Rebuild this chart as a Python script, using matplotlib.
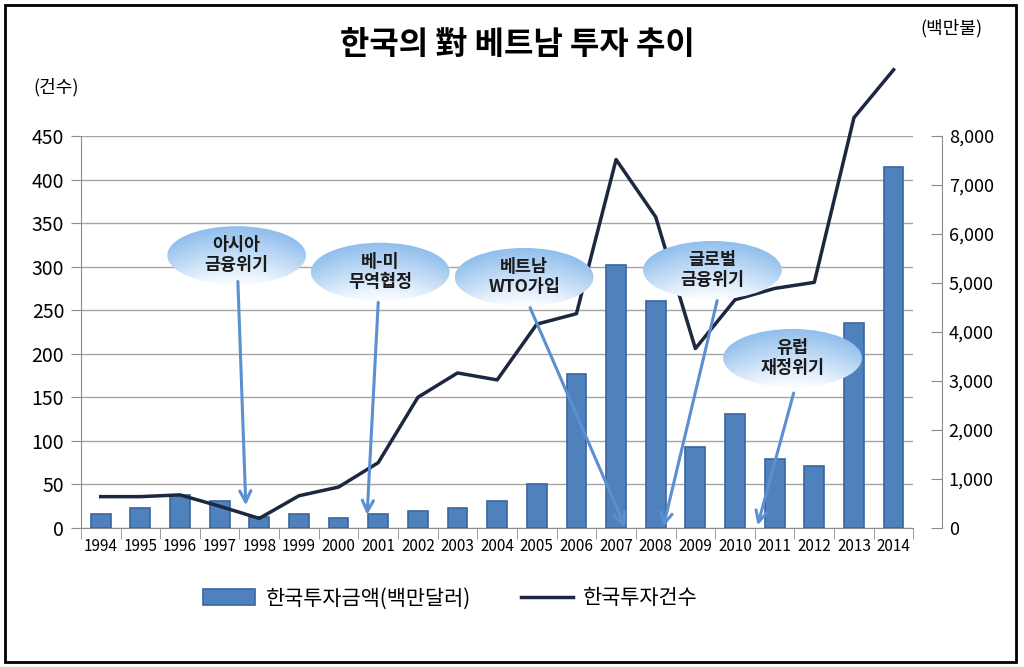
import numpy as np
import matplotlib
matplotlib.use('Agg')
import matplotlib.pyplot as plt
from matplotlib.patches import Ellipse, Rectangle

plt.rcParams['font.family'] = ['Noto Sans CJK KR', 'DejaVu Sans']

# data
years = [str(y) for y in range(1994, 2015)]
invest_amount = [290, 400, 680, 550, 230, 290, 210, 290, 350, 400, 550,
                 900, 3140, 5370, 4630, 1650, 2320, 1410, 1270, 4190, 7370]  # 백만달러
invest_count = [36, 36, 38, 25, 11, 37, 47, 75, 150, 178, 170,
                234, 246, 423, 357, 206, 262, 275, 282, 471, 526]  # 건수

# callouts: label, ellipse centre (category idx, count units), arrow tail -> head
events = ['아시아\n금융위기', '베-미\n무역협정', '베트남\nWTO가입', '글로벌\n금융위기', '유럽\n재정위기']
event_centers = [(3.43, 313), (7.05, 294), (10.68, 288), (15.43, 296), (17.45, 195)]
arrow_tails = [(3.46, 283), (7.0, 259), (10.83, 253), (15.55, 261), (17.48, 155)]
arrow_heads = [(3.66, 26), (6.72, 15), (13.23, 1), (14.19, 1), (16.57, 3)]

bar_color = '#4f81bd'
bar_edge = '#3a66a0'
line_color = '#1c2740'
arrow_color = '#5b8fd2'
axis_gray = '#8c8c8c'

fig = plt.figure(figsize=(10.24, 6.67), dpi=100)
rect = [0.079, 0.2084, 0.813, 0.5877]
ax = fig.add_axes(rect)
ax2 = ax.twinx()
ax3 = fig.add_axes(rect, sharex=ax, sharey=ax)  # overlay for line + callouts
ax3.set_zorder(5)
ax3.axis('off')

x = np.arange(len(years))

bars = ax2.bar(x, invest_amount, width=0.5, color=bar_color, edgecolor=bar_edge,
               linewidth=1.2, label='한국투자금액(백만달러)')
line, = ax3.plot(x, invest_count, color=line_color, lw=2.5, clip_on=False,
                 label='한국투자건수', zorder=3)

# left axis (건수)
ax.set_xlim(-0.5, len(years) - 0.5)
ax.set_ylim(0, 450)
ax.set_yticks(range(0, 451, 50))
ax.yaxis.grid(True, color='#a6a6a6', lw=1)
ax.set_axisbelow(True)
ax.tick_params(axis='y', length=7, color=axis_gray, labelsize=14, pad=5)
ax.set_xticks(x)
ax.set_xticklabels(years)
ax.set_xticks(np.arange(-0.5, len(years), 1), minor=True)
ax.tick_params(axis='x', which='major', length=0, labelsize=11, pad=7)
ax.tick_params(axis='x', which='minor', length=8, color=axis_gray)
for s in ['top', 'right']:
    ax.spines[s].set_visible(False)
for s in ['left', 'bottom']:
    ax.spines[s].set_color(axis_gray)

# right axis (백만불)
ax2.set_ylim(0, 8000)
ax2.set_yticks(range(0, 8001, 1000))
ax2.set_yticklabels([f'{v:,}' for v in range(0, 8001, 1000)])
ax2.tick_params(axis='y', direction='in', length=8, color=axis_gray, labelsize=13, pad=5)
for s in ['top', 'left', 'bottom']:
    ax2.spines[s].set_visible(False)
ax2.spines['right'].set_position(('axes', 1.034))
ax2.spines['right'].set_color(axis_gray)

# gradient for the callout bubbles
n = 100
u = np.linspace(-1, 1, n)[None, :]
t = np.linspace(0, 1, n)[:, None]
w = np.clip(t * 0.95 + 0.1 - 0.3 * u ** 2, 0, 1)[..., None]
blue = np.array([0.52, 0.72, 0.92])
white = np.array([0.97, 0.985, 1.0])
grad = blue * (1 - w) + white * w

ell_w, ell_h = 3.5, 67
for label, (cx, cy), tail, head in zip(events, event_centers, arrow_tails, arrow_heads):
    ax3.annotate('', xy=head, xytext=tail, zorder=8, annotation_clip=False,
                 arrowprops=dict(arrowstyle='->', color=arrow_color, lw=2.2,
                                 mutation_scale=20, shrinkA=0, shrinkB=0))
    ell = Ellipse((cx, cy), ell_w, ell_h, facecolor='none', edgecolor='none', zorder=6)
    ax3.add_patch(ell)
    img = ax3.imshow(grad, extent=[cx - ell_w / 2, cx + ell_w / 2, cy - ell_h / 2, cy + ell_h / 2],
                     origin='upper', aspect='auto', zorder=6, interpolation='bilinear')
    img.set_clip_path(ell)
    ax3.text(cx, cy, label, ha='center', va='center', fontsize=12.5, fontweight='bold',
             color='#1a1a1a', linespacing=1.15, zorder=7)

ax.set_xlim(-0.5, len(years) - 0.5)
ax.set_ylim(0, 450)

# titles and axis units
fig.text(0.505, 0.932, '한국의 對 베트남 투자 추이', ha='center', va='center',
         fontsize=23, fontweight='bold')
fig.text(0.033, 0.869, '(건수)', ha='left', va='center', fontsize=13)
fig.text(0.899, 0.958, '(백만불)', ha='left', va='center', fontsize=13)

fig.legend(handles=[bars, line], loc='center', bbox_to_anchor=(0.44, 0.103), ncol=2,
           frameon=False, fontsize=15, handlelength=2.5, handleheight=0.8,
           columnspacing=2.4, handletextpad=0.5)

# outer frame
fig.patches.append(Rectangle((0.005, 0.008), 0.987, 0.984, transform=fig.transFigure,
                             fill=False, lw=2, ec='black'))

fig.savefig('out.png', dpi=100)
